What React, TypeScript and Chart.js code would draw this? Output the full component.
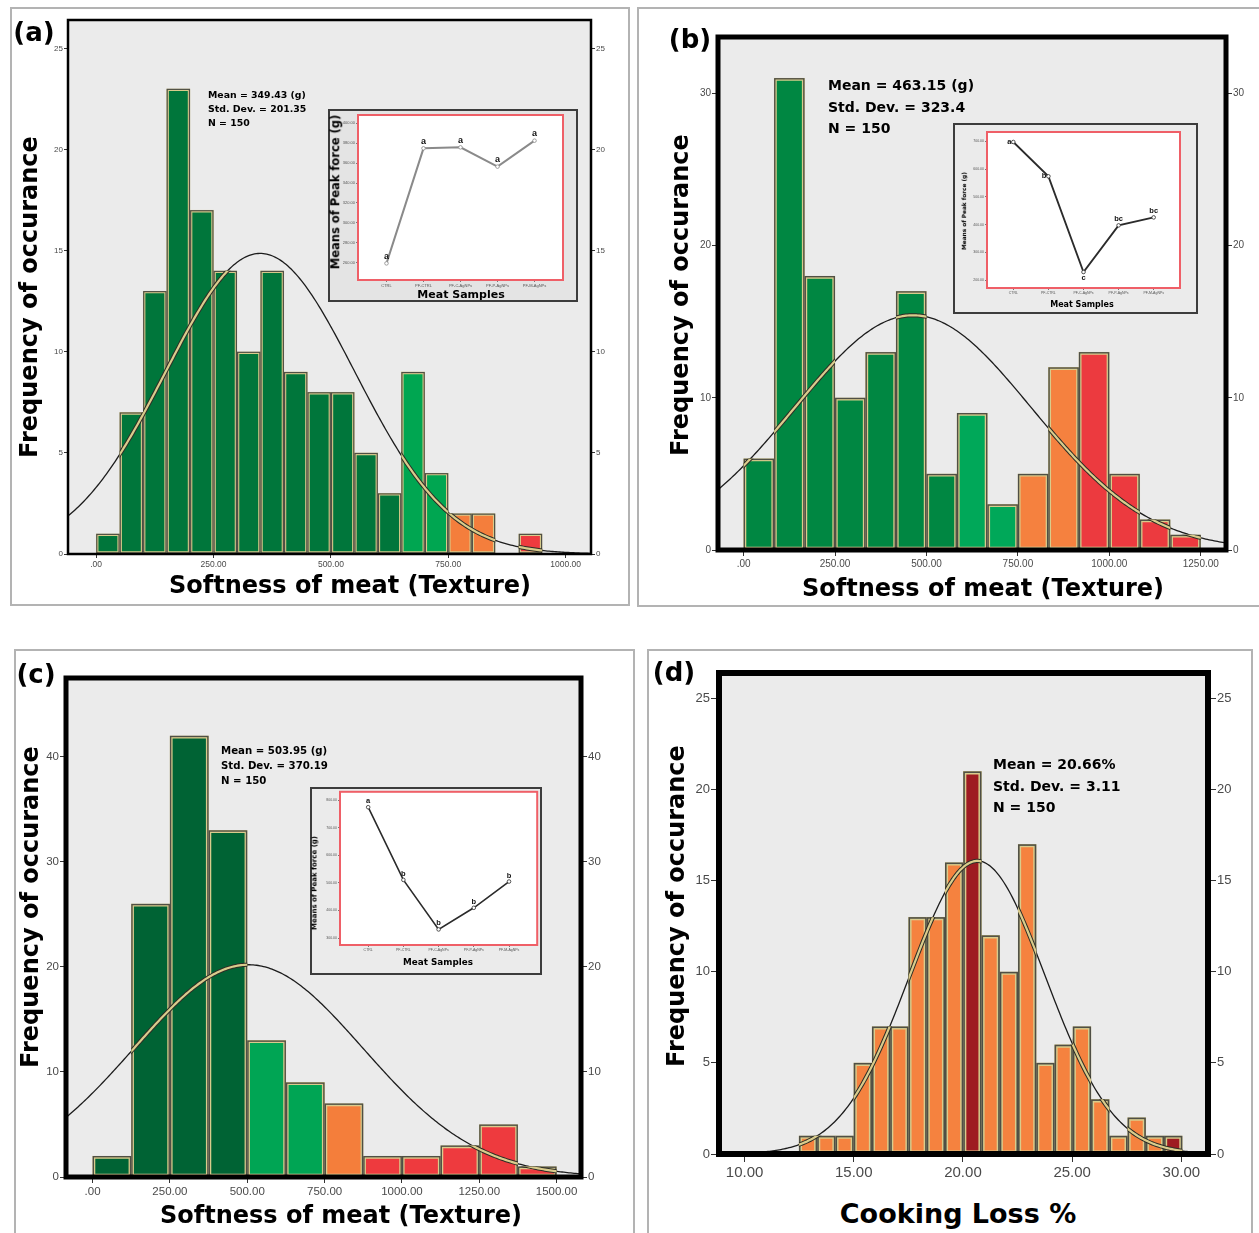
import React, { useEffect, useRef } from "react";
import { Chart, registerables } from "chart.js";
Chart.register(...registerables);

// ================= DATA =================
// Panel (a) – Softness of meat, bins of 50 g
const aCounts = [1, 7, 13, 23, 17, 14, 10, 14, 9, 8, 8, 5, 3, 9, 4, 2, 2, 0, 1];
const aGroups = ["D","D","D","D","D","D","D","D","D","D","D","D","D","L","L","O","O","O","R"];
const aBinStart = 0;
const aBinWidth = 50;
const aMean = 349.43;
const aSd = 201.35;
const aN = 150;
const aXTicks = [0, 250, 500, 750, 1000];
const aYTicks = [0, 5, 10, 15, 20, 25];
const aStats = ["Mean = 349.43 (g)", "Std. Dev. = 201.35", "N = 150"];

// Panel (b)
const bCounts = [6, 31, 18, 10, 13, 17, 5, 9, 3, 5, 12, 13, 5, 2, 1];
const bGroups = ["D","D","D","D","D","D","D","L","L","O","O","R","R","R","R"];
const bBinStart = 0;
const bBinWidth = 83.33;
const bMean = 463.15;
const bSd = 323.4;
const bN = 150;
const bXTicks = [0, 250, 500, 750, 1000, 1250];
const bYTicks = [0, 10, 20, 30];
const bStats = ["Mean = 463.15 (g)", "Std. Dev. = 323.4", "N = 150"];

// Panel (c)
const cCounts = [2, 26, 42, 33, 13, 9, 7, 2, 2, 3, 5, 1];
const cGroups = ["D","D","D","D","L","L","O","R","R","R","R","R"];
const cBinStart = 0;
const cBinWidth = 125;
const cMean = 503.95;
const cSd = 370.19;
const cN = 150;
const cXTicks = [0, 250, 500, 750, 1000, 1250, 1500];
const cYTicks = [0, 10, 20, 30, 40];
const cStats = ["Mean = 503.95 (g)", "Std. Dev. = 370.19", "N = 150"];

// Panel (d) – Cooking loss %
const dCounts = [1, 1, 1, 5, 7, 7, 13, 13, 16, 21, 12, 10, 17, 5, 6, 7, 3, 1, 2, 1, 1];
const dGroups = ["O","O","O","O","O","O","O","O","O","R","O","O","O","O","O","O","O","O","O","O","R"];
const dBinStart = 12.49;
const dBinWidth = 0.836;
const dMean = 20.66;
const dSd = 3.11;
const dN = 150;
const dXTicks = [10, 15, 20, 25, 30];
const dYTicks = [0, 5, 10, 15, 20, 25];
const dStats = ["Mean = 20.66%", "Std. Dev. = 3.11", "N = 150"];

// Insets – Means of peak force (g)
const insetCategories = ["CTRL", "PF-CTRL", "PF-C-AgNPs", "PF-P-AgNPs", "PF-M-AgNPs"];
const aInsetMeans = [259.3, 374.9, 375.9, 356.5, 382.6];
const aInsetLetters = ["a", "a", "a", "a", "a"];
const aInsetYTicks = [260, 280, 300, 320, 340, 360, 380, 400];
const bInsetMeans = [697.6, 573.8, 228.8, 397.0, 425.7];
const bInsetLetters = ["a", "b", "c", "bc", "bc"];
const bInsetYTicks = [200, 300, 400, 500, 600, 700];
const cInsetMeans = [773.9, 510.7, 331.4, 409.7, 504.8];
const cInsetLetters = ["a", "b", "b", "b", "b"];
const cInsetYTicks = [300, 400, 500, 600, 700, 800];

// ================= STYLE / LAYOUT =================
const FONT_B = '"DejaVu Sans", "Liberation Sans", Arial, sans-serif';
const FONT_T = '"Liberation Sans", Arial, sans-serif';

const fmtX = (v: number) => (v === 0 ? ".00" : v.toFixed(2));

const panels = [
  {
    area: { l: 68, t: 20, r: 591, b: 554 }, xMin: -60, xMax: 1054, yMax: 26.4,
    counts: aCounts, groups: aGroups, binStart: aBinStart, binWidth: aBinWidth,
    mean: aMean, sd: aSd, n: aN, xTicks: aXTicks, yTicks: aYTicks,
    palette: { D: "#00763B", L: "#00A651", O: "#F47E3C", R: "#EE3B3F" },
    frame: 2.5, inner: 2.6, outer: 1.2, tickX: 8.5, tickY: 8, tickLen: 4,
  },
  {
    area: { l: 718, t: 37, r: 1226, b: 550 }, xMin: -70, xMax: 1319, yMax: 33.7,
    counts: bCounts, groups: bGroups, binStart: bBinStart, binWidth: bBinWidth,
    mean: bMean, sd: bSd, n: bN, xTicks: bXTicks, yTicks: bYTicks,
    palette: { D: "#008742", L: "#00A859", O: "#F5813F", R: "#EC3A3F" },
    frame: 5, inner: 3, outer: 1.4, tickX: 10, tickY: 10, tickLen: 6,
  },
  {
    area: { l: 66, t: 678, r: 581, b: 1177 }, xMin: -86, xMax: 1579, yMax: 47.5,
    counts: cCounts, groups: cGroups, binStart: cBinStart, binWidth: cBinWidth,
    mean: cMean, sd: cSd, n: cN, xTicks: cXTicks, yTicks: cYTicks,
    palette: { D: "#006334", L: "#00A554", O: "#F47E3B", R: "#EE3A3E" },
    frame: 5, inner: 3, outer: 1.4, tickX: 11.5, tickY: 11.5, tickLen: 6,
  },
  {
    area: { l: 719, t: 673, r: 1208, b: 1154 }, xMin: 8.83, xMax: 31.22, yMax: 26.4,
    counts: dCounts, groups: dGroups, binStart: dBinStart, binWidth: dBinWidth,
    mean: dMean, sd: dSd, n: dN, xTicks: dXTicks, yTicks: dYTicks,
    palette: { O: "#F5823F", R: "#9E1B21" },
    frame: 6, inner: 3.4, outer: 1.6, tickX: 15, tickY: 13, tickLen: 8,
  },
];

const insets = [
  {
    outer: { l: 328, t: 109, r: 578, b: 302 }, red: { l: 358, t: 115, r: 563, b: 280 },
    xMin: -0.77, xMax: 4.77, yMin: 242.6, yMax: 408.4, means: aInsetMeans, letters: aInsetLetters,
    place: ["above", "above", "above", "above", "above"], yTicks: aInsetYTicks,
    lineColor: "#8a8a8a", lineWidth: 2, letterSize: 9, tickSize: 4, bg: "#e4e4e4",
  },
  {
    outer: { l: 953, t: 123, r: 1198, b: 314 }, red: { l: 987, t: 132, r: 1180, b: 288 },
    xMin: -0.75, xMax: 4.75, yMin: 171.2, yMax: 733.6, means: bInsetMeans, letters: bInsetLetters,
    place: ["left", "left", "below", "above", "above"], yTicks: bInsetYTicks,
    lineColor: "#2b2b2b", lineWidth: 1.8, letterSize: 7.5, tickSize: 3.5, bg: "#ebebeb",
  },
  {
    outer: { l: 310, t: 787, r: 542, b: 975 }, red: { l: 340, t: 790, r: 538, b: 945 },
    xMin: -0.8, xMax: 4.8, yMin: 275, yMax: 829.7, means: cInsetMeans, letters: cInsetLetters,
    place: ["above", "above", "above", "above", "above"], yTicks: cInsetYTicks,
    lineColor: "#2b2b2b", lineWidth: 1.6, letterSize: 7.5, tickSize: 3.5, bg: "#ebebeb",
  },
];

const LW = 50, RW = 40, TM = 10, BH = 36;

function canvasBox(p: any) {
  return {
    left: p.area.l - LW,
    top: p.area.t - TM,
    width: p.area.r - p.area.l + LW + RW,
    height: p.area.b - p.area.t + TM + BH,
  };
}

function makeHist(canvas: HTMLCanvasElement, p: any) {
  const barData = p.counts.map((c: number, i: number) => ({ x: p.binStart + p.binWidth * (i + 0.5), y: c }));
  const peak = (p.n * p.binWidth) / (p.sd * Math.sqrt(2 * Math.PI));
  const curve: { x: number; y: number }[] = [];
  const steps = 300;
  for (let k = 0; k <= steps; k++) {
    const x = p.xMin + ((p.xMax - p.xMin) * k) / steps;
    curve.push({ x, y: peak * Math.exp(-((x - p.mean) ** 2) / (2 * p.sd * p.sd)) });
  }
  const tickColor = "#4a4a4a";
  const yScale = (position: string, width: number) => ({
    type: "linear",
    position,
    min: 0,
    max: p.yMax,
    grid: { display: true, drawOnChartArea: false, drawTicks: true, tickLength: p.tickLen, color: "#333", lineWidth: 1 },
    border: { display: false },
    ticks: { font: { family: FONT_T, size: p.tickY }, color: tickColor, padding: 1, callback: (v: number) => String(v) },
    afterBuildTicks: (s: any) => { s.ticks = p.yTicks.map((v: number) => ({ value: v })); },
    afterFit: (s: any) => { s.width = width; s.paddingTop = 0; s.paddingBottom = 0; },
  });
  const deco = {
    id: "histDeco",
    beforeDraw(chart: any) {
      const { ctx, chartArea: a } = chart;
      ctx.save();
      ctx.fillStyle = "#EBEBEB";
      ctx.fillRect(a.left, a.top, a.right - a.left, a.bottom - a.top);
      ctx.restore();
    },
    afterDatasetsDraw(chart: any) {
      const ctx = chart.ctx;
      const a = chart.chartArea;
      const bars = chart.getDatasetMeta(1).data;
      const rects: number[][] = [];
      bars.forEach((el: any, i: number) => {
        if (!p.counts[i]) return;
        const { x, y, base, width } = el.getProps(["x", "y", "base", "width"], true);
        rects.push([x - width / 2, y, width, base - y]);
      });
      ctx.save();
      ctx.strokeStyle = "#4f4f45";
      ctx.lineWidth = p.outer;
      rects.forEach((r) => ctx.strokeRect(r[0] + p.outer / 2, r[1] + p.outer / 2, r[2] - p.outer, r[3] - p.outer));
      ctx.restore();
      // curve highlight over bars
      const pts = chart.getDatasetMeta(0).data;
      ctx.save();
      ctx.beginPath();
      ctx.rect(a.left, a.top, a.right - a.left, a.bottom - a.top);
      ctx.clip();
      ctx.beginPath();
      rects.forEach((r) => ctx.rect(r[0], r[1], r[2], r[3]));
      ctx.clip();
      ctx.beginPath();
      pts.forEach((pt: any, i: number) => (i ? ctx.lineTo(pt.x, pt.y) : ctx.moveTo(pt.x, pt.y)));
      ctx.lineJoin = "round";
      ctx.strokeStyle = "#2e2e26";
      ctx.lineWidth = 4.2;
      ctx.stroke();
      ctx.strokeStyle = "#D9CC8C";
      ctx.lineWidth = 2.2;
      ctx.stroke();
      ctx.restore();
    },
    afterDraw(chart: any) {
      const { ctx, chartArea: a } = chart;
      ctx.save();
      ctx.strokeStyle = "#000";
      ctx.lineWidth = p.frame;
      ctx.strokeRect(a.left, a.top, a.right - a.left, a.bottom - a.top);
      ctx.restore();
    },
  };
  return new Chart(canvas, {
    type: "bar",
    data: {
      datasets: [
        { type: "line", data: curve, borderColor: "#1c1c1c", borderWidth: 1.3, pointRadius: 0, tension: 0, order: 0 } as any,
        {
          type: "bar", data: barData,
          backgroundColor: p.groups.map((g: string) => p.palette[g]),
          borderColor: "#D9CC8C", borderWidth: p.inner, borderSkipped: false,
          barPercentage: 1, categoryPercentage: 1, order: 1,
        } as any,
      ],
    },
    options: {
      animation: false,
      responsive: false,
      maintainAspectRatio: false,
      events: [],
      layout: { padding: { top: TM, left: 0, right: 0, bottom: 0 } },
      plugins: { legend: { display: false }, tooltip: { enabled: false } },
      scales: {
        x: {
          type: "linear", position: "bottom", min: p.xMin, max: p.xMax, offset: false,
          grid: { display: true, drawOnChartArea: false, drawTicks: true, tickLength: p.tickLen, color: "#333", lineWidth: 1, offset: false },
          border: { display: false },
          ticks: { font: { family: FONT_T, size: p.tickX }, color: tickColor, padding: 2, maxRotation: 0, autoSkip: false, callback: (v: number) => fmtX(v) },
          afterBuildTicks: (s: any) => { s.ticks = p.xTicks.map((v: number) => ({ value: v })); },
          afterFit: (s: any) => { s.height = BH; s.paddingLeft = 0; s.paddingRight = 0; },
        },
        y: yScale("left", LW),
        y2: yScale("right", RW),
      } as any,
    },
    plugins: [deco],
  });
}

function makeInset(canvas: HTMLCanvasElement, s: any) {
  const data = s.means.map((m: number, i: number) => ({ x: i, y: m }));
  const deco = {
    id: "insetDeco",
    beforeDraw(chart: any) {
      const { ctx, chartArea: a } = chart;
      ctx.save();
      ctx.fillStyle = "#fff";
      ctx.fillRect(a.left, a.top, a.right - a.left, a.bottom - a.top);
      ctx.restore();
    },
    afterDraw(chart: any) {
      const { ctx, chartArea: a } = chart;
      ctx.save();
      ctx.strokeStyle = "#EF5F67";
      ctx.lineWidth = 2;
      ctx.strokeRect(a.left, a.top, a.right - a.left, a.bottom - a.top);
      const pts = chart.getDatasetMeta(0).data;
      ctx.fillStyle = "#111";
      ctx.font = `bold ${s.letterSize}px ${FONT_T}`;
      ctx.textBaseline = "middle";
      pts.forEach((pt: any, i: number) => {
        const pl = s.place[i];
        if (pl === "left") { ctx.textAlign = "right"; ctx.fillText(s.letters[i], pt.x - 2, pt.y); }
        else if (pl === "below") { ctx.textAlign = "center"; ctx.fillText(s.letters[i], pt.x, pt.y + s.letterSize * 0.85); }
        else { ctx.textAlign = "center"; ctx.fillText(s.letters[i], pt.x, pt.y - s.letterSize * 0.8); }
      });
      ctx.restore();
    },
  };
  return new Chart(canvas, {
    type: "line",
    data: {
      datasets: [{
        data, borderColor: s.lineColor, borderWidth: s.lineWidth, tension: 0,
        pointRadius: 1.8, pointBackgroundColor: "#fff", pointBorderColor: s.lineColor, pointBorderWidth: 0.8,
      }],
    },
    options: {
      animation: false,
      responsive: false,
      maintainAspectRatio: false,
      events: [],
      layout: { padding: { top: s.red.t - s.outer.t, right: s.outer.r - s.red.r, left: 0, bottom: 0 } },
      plugins: { legend: { display: false }, tooltip: { enabled: false } },
      scales: {
        x: {
          type: "linear", min: s.xMin, max: s.xMax,
          grid: { display: true, drawOnChartArea: false, tickLength: 2, color: "#777" },
          border: { display: false },
          ticks: { font: { family: FONT_T, size: s.tickSize }, color: "#555", padding: 1, maxRotation: 0, autoSkip: false, callback: (v: number) => insetCategories[v] ?? "" },
          afterBuildTicks: (sc: any) => { sc.ticks = insetCategories.map((_, i) => ({ value: i })); },
          afterFit: (sc: any) => { sc.height = s.outer.b - s.red.b; sc.paddingLeft = 0; sc.paddingRight = 0; },
        },
        y: {
          type: "linear", min: s.yMin, max: s.yMax,
          grid: { display: true, drawOnChartArea: false, tickLength: 2, color: "#777" },
          border: { display: false },
          ticks: { font: { family: FONT_T, size: s.tickSize }, color: "#555", padding: 1, callback: (v: number) => v.toFixed(2) },
          afterBuildTicks: (sc: any) => { sc.ticks = s.yTicks.map((v: number) => ({ value: v })); },
          afterFit: (sc: any) => { sc.width = s.red.l - s.outer.l; sc.paddingTop = 0; sc.paddingBottom = 0; },
        },
      } as any,
    },
    plugins: [deco],
  });
}

// ================= TEXT =================
type TProps = { x: number; y: number; size: number; text: string; rot?: boolean; align?: "center" | "left"; family?: string; color?: string };
function T({ x, y, size, text, rot, align = "center", family = FONT_B, color = "#000" }: TProps) {
  const tf = align === "center" ? `translate(-50%, -50%)${rot ? " rotate(-90deg)" : ""}` : "translate(0, -50%)";
  return (
    <div style={{ position: "absolute", left: x, top: y, transform: tf, fontFamily: family, fontWeight: "bold", fontSize: size, lineHeight: 1, whiteSpace: "nowrap", color }}>
      {text}
    </div>
  );
}

const panelBoxes = [
  { l: 10, t: 7, w: 620, h: 599 },
  { l: 637, t: 7, w: 640, h: 600 },
  { l: 14, t: 649, w: 621, h: 620 },
  { l: 647, t: 649, w: 606, h: 620 },
];

const letters = [
  { x: 34, y: 32, t: "(a)" }, { x: 690, y: 39, t: "(b)" }, { x: 36, y: 674, t: "(c)" }, { x: 674, y: 672, t: "(d)" },
];
const yTitles = [{ x: 29, y: 297 }, { x: 680, y: 295 }, { x: 30, y: 907 }, { x: 676, y: 906 }];
const xTitles = [
  { x: 350, y: 585, t: "Softness of meat (Texture)", s: 24 },
  { x: 983, y: 588, t: "Softness of meat (Texture)", s: 24 },
  { x: 341, y: 1215, t: "Softness of meat (Texture)", s: 24 },
  { x: 958, y: 1213, t: "Cooking Loss %", s: 27 },
];
const statBlocks = [
  { x: 208, ys: [95, 109, 123], s: 9.4, lines: aStats },
  { x: 828, ys: [85, 106.5, 127.5], s: 14, lines: bStats },
  { x: 221, ys: [750.5, 765.5, 780.5], s: 10.2, lines: cStats },
  { x: 993, ys: [764, 785.5, 807], s: 14, lines: dStats },
];
const insetTitles = [
  { yx: 336, yy: 192, ys: 11.5, xx: 461, xy: 294, xs: 11 },
  { yx: 965, yy: 211, ys: 5.8, xx: 1082, xy: 305, xs: 8 },
  { yx: 315, yy: 883, ys: 7, xx: 438, xy: 962, xs: 8.8 },
];

export default function App() {
  const histRefs = useRef<(HTMLCanvasElement | null)[]>([]);
  const insetRefs = useRef<(HTMLCanvasElement | null)[]>([]);

  useEffect(() => {
    const charts: Chart[] = [];
    panels.forEach((p, i) => {
      const c = histRefs.current[i];
      if (c) charts.push(makeHist(c, p));
    });
    insets.forEach((s, i) => {
      const c = insetRefs.current[i];
      if (c) charts.push(makeInset(c, s));
    });
    return () => charts.forEach((ch) => ch.destroy());
  }, []);

  return (
    <div style={{ position: "absolute", left: 0, top: 0, width: 1259, height: 1233, overflow: "hidden", background: "#fff" }}>
      {panelBoxes.map((b, i) => (
        <div key={"box" + i} style={{ position: "absolute", left: b.l, top: b.t, width: b.w, height: b.h, border: "2px solid #b3b3b3", boxSizing: "border-box" }} />
      ))}
      {panels.map((p, i) => {
        const cb = canvasBox(p);
        return (
          <canvas
            key={"h" + i}
            ref={(el) => { histRefs.current[i] = el; }}
            width={cb.width}
            height={cb.height}
            style={{ position: "absolute", left: cb.left, top: cb.top, width: cb.width, height: cb.height }}
          />
        );
      })}
      {insets.map((s, i) => (
        <div key={"ib" + i} style={{ position: "absolute", left: s.outer.l, top: s.outer.t, width: s.outer.r - s.outer.l, height: s.outer.b - s.outer.t, border: "2px solid #3c3c3c", background: s.bg, boxSizing: "border-box" }} />
      ))}
      {insets.map((s, i) => (
        <canvas
          key={"i" + i}
          ref={(el) => { insetRefs.current[i] = el; }}
          width={s.outer.r - s.outer.l}
          height={s.outer.b - s.outer.t}
          style={{ position: "absolute", left: s.outer.l, top: s.outer.t, width: s.outer.r - s.outer.l, height: s.outer.b - s.outer.t }}
        />
      ))}
      {insetTitles.map((t, i) => (
        <React.Fragment key={"it" + i}>
          <T x={t.yx} y={t.yy} size={t.ys} text="Means of Peak force (g)" rot />
          <T x={t.xx} y={t.xy} size={t.xs} text="Meat Samples" />
        </React.Fragment>
      ))}
      {letters.map((l, i) => <T key={"l" + i} x={l.x} y={l.y} size={26} text={l.t} />)}
      {yTitles.map((t, i) => <T key={"yt" + i} x={t.x} y={t.y} size={24} text="Frequency of occurance" rot />)}
      {xTitles.map((t, i) => <T key={"xt" + i} x={t.x} y={t.y} size={t.s} text={t.t} />)}
      {statBlocks.map((b, i) =>
        b.lines.map((line, j) => <T key={"s" + i + "_" + j} x={b.x} y={b.ys[j]} size={b.s} text={line} align="left" />)
      )}
    </div>
  );
}
